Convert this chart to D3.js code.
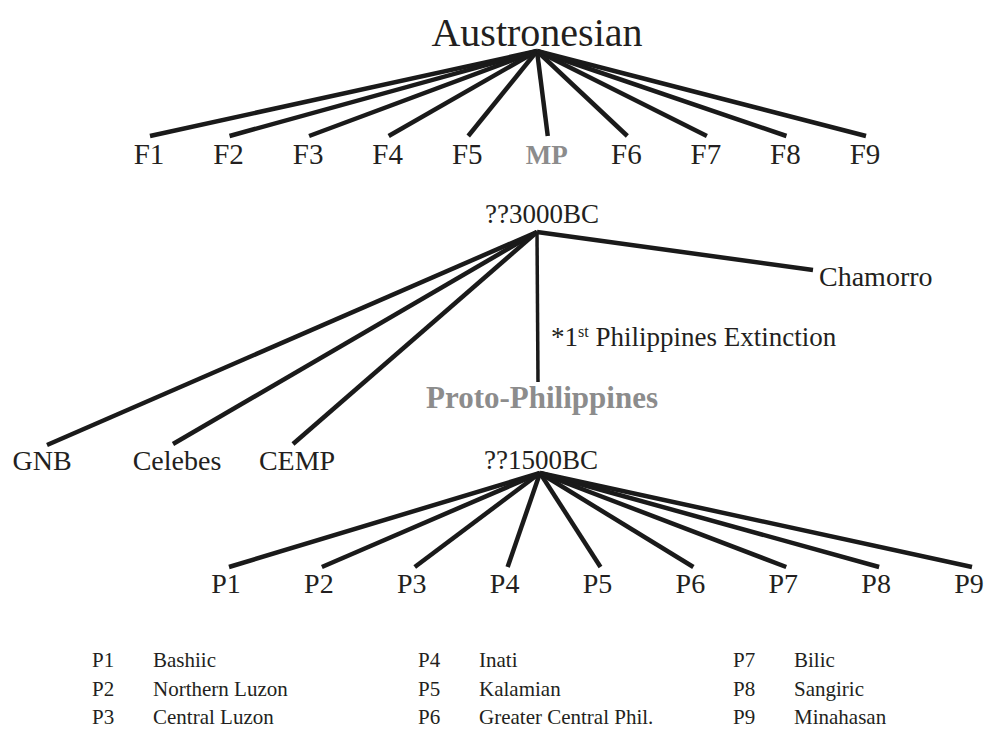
<!DOCTYPE html>
<html>
<head>
<meta charset="utf-8">
<script src="https://cdn.jsdelivr.net/npm/d3@7"></script>
<style>
  body { margin: 0; background: #fff; }
</style>
</head>
<body>
<div id="chart"></div>
<script>
//=====================================================
// data
var rootName = "Austronesian";
var familyNames = ["F1", "F2", "F3", "F4", "F5", "MP", "F6", "F7", "F8", "F9"];
var highlightNames = ["MP", "Proto-Philippines"];

var mpDate = "??3000BC";
var mpBranchNames = ["GNB", "Celebes", "CEMP", "Proto-Philippines", "Chamorro"];
var extinctionNote = ["*1", "st", " Philippines Extinction"];

var ppDate = "??1500BC";
var ppBranchCodes = ["P1", "P2", "P3", "P4", "P5", "P6", "P7", "P8", "P9"];
var ppBranchNames = ["Bashiic", "Northern Luzon", "Central Luzon", "Inati", "Kalamian",
                     "Greater Central Phil.", "Bilic", "Sangiric", "Minahasan"];

//=====================================================
var width = 993, height = 731;
var grey = "#8c8c8c", ink = "#1a1a1a", textInk = "#231f20";
var serif = "'Liberation Serif', 'Times New Roman', Times, serif";

var svg = d3.select("#chart").append("svg")
  .attr("width", width)
  .attr("height", height)
  .style("font-family", serif);

function label(x, y, txt, size, anchor) {
  var hi = highlightNames.indexOf(txt) >= 0;
  return svg.append("text")
    .attr("x", x)
    .attr("y", y)
    .attr("text-anchor", anchor || "middle")
    .style("font-family", serif)
    .style("font-size", size + "px")
    .style("font-weight", hi ? "bold" : "normal")
    .style("fill", hi ? grey : textInk)
    .text(txt);
}

function fan(apex, ends, sw) {
  svg.append("g")
    .selectAll("line")
    .data(ends)
    .enter()
    .append("line")
    .attr("x1", apex[0]).attr("y1", apex[1])
    .attr("x2", function(d) { return d.x; })
    .attr("y2", function(d) { return d.y; })
    .attr("stroke", ink)
    .attr("stroke-width", function(d) { return d.w || sw; });
}

//=====================================================
// level 1 : Austronesian -> families
var xF = d3.scalePoint().domain(familyNames).range([150, 866]);
var rootApex = [537, 51];

label(rootApex[0], 46, rootName, 40);
fan(rootApex, familyNames.map(function(d) { return { x: xF(d), y: 136 }; }), 4.5);
familyNames.forEach(function(d) {
  label(xF(d) - 1, 164, d, highlightNames.indexOf(d) >= 0 ? 27 : 29);
});

//=====================================================
// level 2 : MP -> sub groups
var mpApex = [537, 232];
var mpEnds = {
  "GNB":               { x: 47,  y: 445, lx: 42,  ly: 470, anchor: "middle" },
  "Celebes":           { x: 173, y: 444, lx: 177, ly: 470, anchor: "middle" },
  "CEMP":              { x: 293, y: 444, lx: 297, ly: 470, anchor: "middle" },
  "Proto-Philippines": { x: 538, y: 382, lx: 542, ly: 408, anchor: "middle", w: 3.5 },
  "Chamorro":          { x: 813, y: 270, lx: 819, ly: 286, anchor: "start" }
};

label(mpApex[0] + 5, 223, mpDate, 27);
fan(mpApex, mpBranchNames.map(function(d) { return mpEnds[d]; }), 4.5);
mpBranchNames.forEach(function(d) {
  var e = mpEnds[d];
  label(e.lx, e.ly, d, d === "Proto-Philippines" ? 31 : 28, e.anchor);
});

var note = svg.append("text")
  .attr("x", 551)
  .attr("y", 346)
  .style("font-family", serif)
  .style("font-size", "27px")
  .style("fill", textInk);
note.append("tspan").text(extinctionNote[0]);
note.append("tspan").style("font-size", "16px").attr("dy", -9).text(extinctionNote[1]);
note.append("tspan").attr("dy", 9).text(extinctionNote[2]);

//=====================================================
// level 3 : Proto-Philippines -> P groups
var xP = d3.scalePoint().domain(ppBranchCodes).range([229, 972]);
var ppApex = [540, 473];

label(ppApex[0] + 1, 469, ppDate, 27);
fan(ppApex, ppBranchCodes.map(function(d) { return { x: xP(d), y: 567 }; }), 4.5);
ppBranchCodes.forEach(function(d) {
  label(xP(d) - 3, 593, d, 28);
});

//=====================================================
// legend
var legendCodeX = d3.scaleOrdinal().domain([0, 1, 2]).range([92, 418, 733]);
var legendRowY = d3.scaleLinear().domain([0, 2]).range([667, 724]);

ppBranchCodes.forEach(function(code, i) {
  var col = Math.floor(i / 3), row = i % 3;
  label(legendCodeX(col), legendRowY(row), code, 21, "start");
  label(legendCodeX(col) + 61, legendRowY(row), ppBranchNames[i], 21, "start");
});
</script>
</body>
</html>
